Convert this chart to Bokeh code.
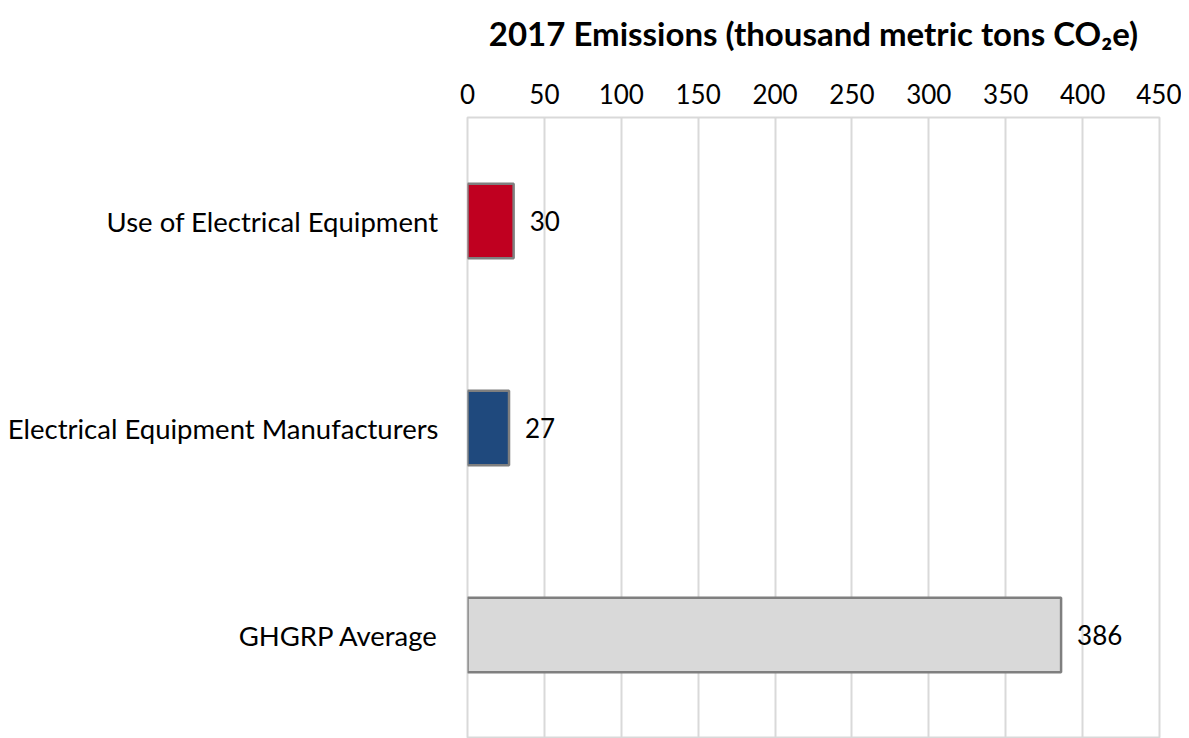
from bokeh.plotting import figure
from bokeh.models import Range1d, FactorRange, ColumnDataSource, FixedTicker
from bokeh.embed import file_html
from bokeh.resources import INLINE
from bokeh.core.properties import value

categories = ["Use of Electrical Equipment", "Electrical Equipment Manufacturers", "GHGRP Average"]
emissions = [30, 27, 386]
bar_colors = ["#C00020", "#1F497D", "#D9D9D9"]
x_ticks = [0, 50, 100, 150, 200, 250, 300, 350, 400, 450]
axis_title = "2017 Emissions (thousand metric tons CO\u2082e)"

FONT = "Lato"

src = ColumnDataSource(dict(
    cat=categories,
    val=emissions,
    color=bar_colors,
    label=[str(v) for v in emissions],
))

p = figure(
    width=1181, height=738,
    x_range=Range1d(0, 450),
    y_range=FactorRange(factors=list(reversed(categories))),
    x_axis_location="above",
    output_backend="svg", toolbar_location=None,
    min_border_left=467, min_border_right=22,
    min_border_top=117, min_border_bottom=0,
)

p.hbar(y="cat", left=0, right="val", height=0.36, fill_color="color",
       line_color="#7F7F7F", line_width=2.5, source=src)

p.text(x="val", y="cat", text="label", x_offset=16, text_align="left",
       text_baseline="middle", text_font=value(FONT), text_font_size="26px",
       text_color="#000000", source=src)

p.outline_line_color = "#D9D9D9"
p.outline_line_width = 2
p.xgrid.ticker = FixedTicker(ticks=x_ticks)
p.xgrid.grid_line_color = "#D9D9D9"
p.xgrid.grid_line_width = 2
p.ygrid.visible = False

xa = p.xaxis[0]
xa.ticker = FixedTicker(ticks=x_ticks)
xa.axis_line_color = None
xa.major_tick_line_color = None
xa.minor_tick_line_color = None
xa.major_label_text_font = FONT
xa.major_label_text_font_size = "26px"
xa.major_label_text_color = "#000000"
xa.major_label_standoff = 8
xa.axis_label = axis_title
xa.axis_label_text_font = FONT
xa.axis_label_text_font_style = "bold"
xa.axis_label_text_font_size = "33px"
xa.axis_label_text_color = "#000000"
xa.axis_label_standoff = 28

ya = p.yaxis[0]
ya.axis_line_color = None
ya.major_tick_line_color = None
ya.minor_tick_line_color = None
ya.major_label_text_font = FONT
ya.major_label_text_font_size = "27.5px"
ya.major_label_text_color = "#000000"
ya.major_label_standoff = 23

open("out.html", "w").write(file_html(p, INLINE))
